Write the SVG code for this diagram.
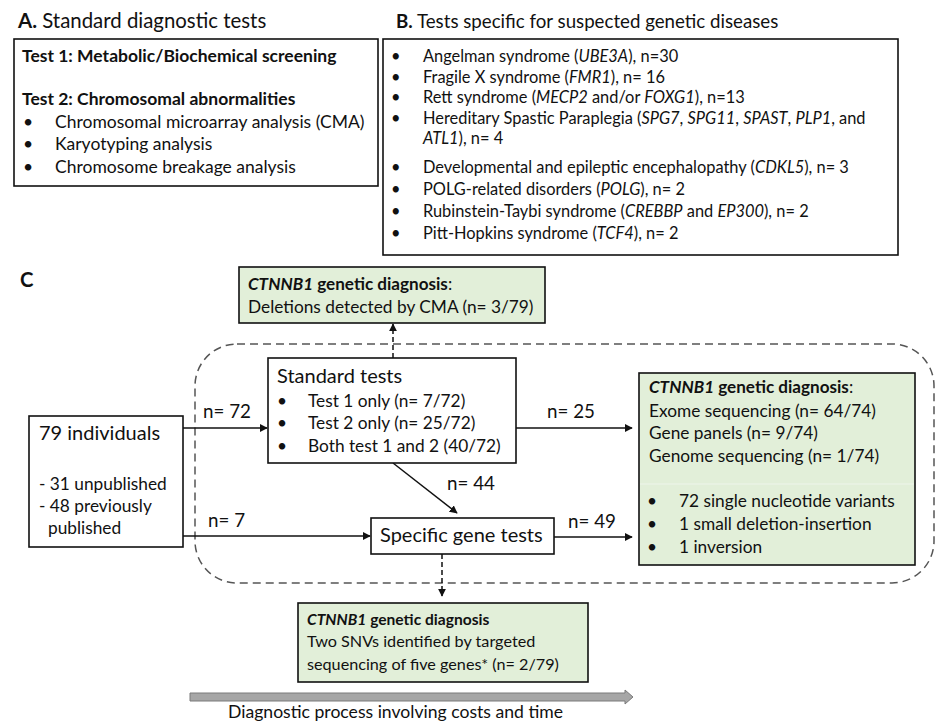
<svg xmlns="http://www.w3.org/2000/svg" width="937" height="727" viewBox="0 0 937 727">
<style>
text{font-family:Lato,"Open Sans","Liberation Sans",sans-serif;fill:#111}
.ta{font-size:20.4px}
.tb{font-size:18.7px}
.ba{font-size:17.5px}
.bab{font-size:17.5px;font-weight:bold}
.bd{font-size:16.4px}
.lg{font-size:20px}
.nl{font-size:18.8px}
.md{font-size:17.3px}
.mb{font-size:17.1px;font-weight:bold}
.sm{font-size:16.2px}
.smb{font-size:15.6px;font-weight:bold}
.ft{font-size:17.6px}
.i{font-style:italic}
.box{fill:#fff;stroke:#111;stroke-width:1.6}
.gbox{fill:#e2efd9;stroke:#111;stroke-width:1.6}
.ln{stroke:#111;stroke-width:1.5;fill:none}
.dl{stroke:#111;stroke-width:1.5;fill:none;stroke-dasharray:5 3}
</style>
<defs>
<marker id="ah" viewBox="0 0 10 10" refX="9" refY="5" markerWidth="8" markerHeight="8" markerUnits="userSpaceOnUse" orient="auto">
<path d="M0,0 L10,5 L0,10 z" fill="#111"/>
</marker>
</defs>

<g id="panelA">
<text class="ta" x="18" y="28"><tspan font-weight="bold">A.</tspan> Standard diagnostic tests</text>
<rect class="box" x="14" y="39" width="364" height="147"/>
<text class="bab" x="22" y="62">Test 1: Metabolic/Biochemical screening</text>
<text class="bab" x="22" y="105">Test 2: Chromosomal abnormalities</text>
<text class="ba" x="23" y="128">•</text><text class="ba" x="55" y="128">Chromosomal microarray analysis (CMA)</text>
<text class="ba" x="23" y="150">•</text><text class="ba" x="55" y="150">Karyotyping analysis</text>
<text class="ba" x="23" y="173">•</text><text class="ba" x="55" y="173">Chromosome breakage analysis</text>
</g>

<g id="panelB">
<text class="tb" x="396" y="28"><tspan font-weight="bold">B.</tspan> Tests specific for suspected genetic diseases</text>
<rect class="box" x="383" y="39" width="515" height="216"/>
<text class="bd" x="391" y="62">•</text><text class="bd" x="423" y="62">Angelman syndrome (<tspan class="i">UBE3A</tspan>), n=30</text>
<text class="bd" x="391" y="83">•</text><text class="bd" x="423" y="83">Fragile X syndrome (<tspan class="i">FMR1</tspan>), n= 16</text>
<text class="bd" x="391" y="103">•</text><text class="bd" x="423" y="103">Rett syndrome (<tspan class="i">MECP2</tspan> and/or <tspan class="i">FOXG1</tspan>), n=13</text>
<text class="bd" x="391" y="124">•</text><text class="bd" x="423" y="124">Hereditary Spastic Paraplegia (<tspan class="i">SPG7</tspan>, <tspan class="i">SPG11</tspan>, <tspan class="i">SPAST</tspan>, <tspan class="i">PLP1</tspan>, and</text>
<text class="bd" x="423" y="144"><tspan class="i">ATL1</tspan>), n= 4</text>
<text class="bd" x="391" y="173">•</text><text class="bd" x="423" y="173">Developmental and epileptic encephalopathy (<tspan class="i">CDKL5</tspan>), n= 3</text>
<text class="bd" x="391" y="195">•</text><text class="bd" x="423" y="195">POLG-related disorders (<tspan class="i">POLG</tspan>), n= 2</text>
<text class="bd" x="391" y="217">•</text><text class="bd" x="423" y="217">Rubinstein-Taybi syndrome (<tspan class="i">CREBBP</tspan> and <tspan class="i">EP300</tspan>), n= 2</text>
<text class="bd" x="391" y="239">•</text><text class="bd" x="423" y="239">Pitt-Hopkins syndrome (<tspan class="i">TCF4</tspan>), n= 2</text>
</g>

<text class="ta" x="20" y="287" font-weight="bold">C</text>

<g id="region">
<rect x="195" y="344" width="739" height="239" rx="42" ry="42" fill="none" stroke="#555" stroke-width="1.5" stroke-dasharray="8 5"/>
</g>

<g id="connectors">
<line class="dl" x1="393" y1="358" x2="393" y2="324" marker-end="url(#ah)"/>
<line class="ln" x1="183" y1="428" x2="267" y2="428" marker-end="url(#ah)"/>
<line class="ln" x1="183" y1="536" x2="370" y2="536" marker-end="url(#ah)"/>
<line class="ln" x1="393" y1="463" x2="457" y2="513" marker-end="url(#ah)"/>
<line class="ln" x1="516" y1="428" x2="632" y2="428" marker-end="url(#ah)"/>
<line class="ln" x1="554" y1="537" x2="632" y2="537" marker-end="url(#ah)"/>
<line class="dl" x1="442" y1="554" x2="442" y2="596" marker-end="url(#ah)"/>
<text class="nl" x="203" y="418">n= 72</text>
<text class="nl" x="208" y="527">n= 7</text>
<text class="nl" x="447" y="490">n= 44</text>
<text class="nl" x="547" y="418">n= 25</text>
<text class="nl" x="568" y="528">n= 49</text>
</g>

<g id="dxCMA">
<rect class="gbox" x="239" y="267" width="306" height="56"/>
<text class="mb" x="248" y="290"><tspan class="i">CTNNB1</tspan> genetic diagnosis<tspan font-weight="normal">:</tspan></text>
<text class="md" x="248" y="313">Deletions detected by CMA (n= 3/79)</text>
</g>

<g id="standard">
<rect class="box" x="268" y="358" width="248" height="105"/>
<text class="lg" x="277" y="383">Standard tests</text>
<text class="md" x="277" y="407">•</text><text class="md" x="308" y="407">Test 1 only (n= 7/72)</text>
<text class="md" x="277" y="429">•</text><text class="md" x="308" y="429">Test 2 only (n= 25/72)</text>
<text class="md" x="277" y="452">•</text><text class="md" x="308" y="452">Both test 1 and 2 (40/72)</text>
</g>

<g id="individuals">
<rect class="box" x="29" y="416" width="154" height="131"/>
<text class="lg" x="39" y="440">79 individuals</text>
<text class="md" x="39" y="490">- 31 unpublished</text>
<text class="md" x="39" y="512">- 48 previously</text>
<text class="md" x="48" y="534">published</text>
</g>

<g id="specific">
<rect class="box" x="371" y="518" width="183" height="36"/>
<text class="lg" x="380" y="542">Specific gene tests</text>
</g>

<g id="dxMain">
<rect class="gbox" x="639" y="373" width="276" height="192"/>
<line x1="640" y1="484" x2="914" y2="484" stroke="#eaf3e4" stroke-width="1.5"/>
<text class="mb" x="649" y="393"><tspan class="i">CTNNB1</tspan> genetic diagnosis<tspan font-weight="normal">:</tspan></text>
<text class="md" x="649" y="417">Exome sequencing (n= 64/74)</text>
<text class="md" x="649" y="439">Gene panels (n= 9/74)</text>
<text class="md" x="649" y="462">Genome sequencing (n= 1/74)</text>
<text class="md" x="647" y="507">•</text><text class="md" x="679" y="507">72 single nucleotide variants</text>
<text class="md" x="647" y="530">•</text><text class="md" x="679" y="530">1 small deletion-insertion</text>
<text class="md" x="647" y="553">•</text><text class="md" x="679" y="553">1 inversion</text>
</g>

<g id="dxTargeted">
<rect class="gbox" x="298" y="603" width="290" height="79"/>
<text class="smb" x="307" y="625"><tspan class="i">CTNNB1</tspan> genetic diagnosis</text>
<text class="sm" x="307" y="647">Two SNVs identified by targeted</text>
<text class="sm" x="307" y="670">sequencing of five genes* (n= 2/79)</text>
</g>

<g id="timeline">
<polygon points="190,693 625,693 625,690 633,697 625,704 625,701 190,701" fill="#a6a6a6" stroke="#7a7a7a" stroke-width="1"/>
<text class="ft" x="228" y="718">Diagnostic process involving costs and time</text>
</g>
</svg>
